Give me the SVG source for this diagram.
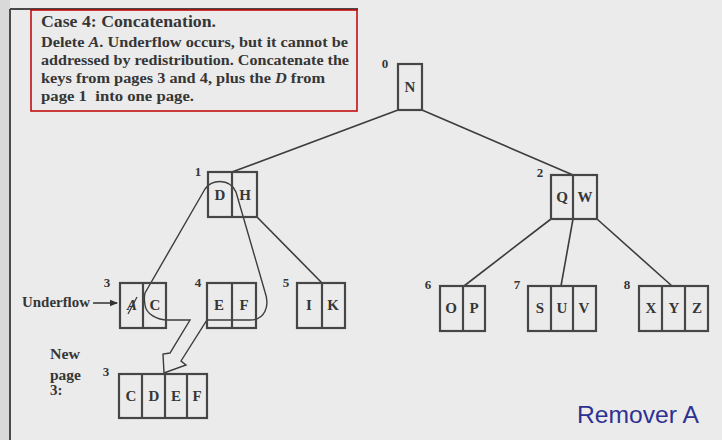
<svg xmlns="http://www.w3.org/2000/svg" width="722" height="440" viewBox="0 0 722 440">
<style>
.t{font-family:"Liberation Serif",serif;font-weight:bold;fill:#363636}
.p{font-size:14px}
.k{font-size:15px;text-anchor:middle}
.n{font-size:13px;text-anchor:middle}
.box{fill:none;stroke:#464646;stroke-width:2.2}
.ln{fill:none;stroke:#3c3c3c;stroke-width:1.6}
.lasso{fill:none;stroke:#3c3c3c;stroke-width:1.4;stroke-linejoin:miter}
</style>
<defs>
<marker id="ah" markerWidth="8" markerHeight="8" refX="7" refY="4" orient="auto" markerUnits="userSpaceOnUse">
<path d="M0,0.8 L8,4 L0,7.2 Z" fill="#333"/>
</marker>
</defs>
<rect x="0" y="0" width="722" height="440" fill="#ebebeb"/>
<rect x="0" y="0" width="10" height="440" fill="#d9d9d9"/>
<line x1="10" y1="9" x2="10" y2="440" stroke="#4a4a4a" stroke-width="2"/>
<line x1="10" y1="9" x2="358" y2="9" stroke="#4a4a4a" stroke-width="2"/>

<g id="caption">
<rect x="31" y="10" width="326" height="101" fill="none" stroke="#c00000" stroke-width="1.5"/>
<text class="t" x="41" y="27" font-size="16.5" textLength="175" lengthAdjust="spacingAndGlyphs">Case 4: Concatenation.</text>
<text class="t p" x="41" y="47" textLength="307" lengthAdjust="spacingAndGlyphs">Delete <tspan font-style="italic">A</tspan>. Underflow occurs, but it cannot be</text>
<text class="t p" x="41" y="65" textLength="308" lengthAdjust="spacingAndGlyphs">addressed by redistribution. Concatenate the</text>
<text class="t p" x="41" y="83" textLength="284" lengthAdjust="spacingAndGlyphs">keys from pages 3 and 4, plus the <tspan font-style="italic">D</tspan> from</text>
<text class="t p" x="41" y="101" textLength="153" lengthAdjust="spacingAndGlyphs">page 1&#160; into one page.</text>
</g>

<g id="connectors">
<line class="ln" x1="398" y1="110" x2="232" y2="172"/>
<line class="ln" x1="422" y1="110" x2="573" y2="175"/>
<line class="ln" x1="257" y1="217" x2="322" y2="283"/>
<line class="ln" x1="551" y1="219" x2="464" y2="286"/>
<line class="ln" x1="573" y1="219" x2="561" y2="286"/>
<line class="ln" x1="597" y1="219" x2="672" y2="286"/>
<line class="ln" x1="93" y1="303" x2="117" y2="303" marker-end="url(#ah)"/>
<path class="lasso" d="M190,320 L168,320 C157,320 146,314 145,305 C144,299 144,296 145,293 L205,189 C211,180 229,177 236,192 L265,292 C270,306 265,320 250,320 L207,320 L181,361 L186,365 L164,373 L163,354 L170,353 Z"/>
</g>

<g id="node0">
<rect class="box" x="398" y="64" width="24" height="46"/>
<text class="t k" x="410" y="92">N</text>
<text class="t n" x="385" y="68">0</text>
</g>

<g id="node1">
<rect class="box" x="208" y="172" width="49" height="45"/>
<line class="box" x1="232" y1="172" x2="232" y2="217"/>
<text class="t k" x="220" y="200">D</text>
<text class="t k" x="245" y="200">H</text>
<text class="t n" x="198" y="176">1</text>
</g>

<g id="node2">
<rect class="box" x="551" y="175" width="46" height="44"/>
<line class="box" x1="573" y1="175" x2="573" y2="219"/>
<text class="t k" x="562" y="202">Q</text>
<text class="t k" x="585" y="202">W</text>
<text class="t n" x="540" y="177">2</text>
</g>

<g id="node3">
<rect class="box" x="120" y="283" width="46" height="45"/>
<line class="box" x1="143" y1="283" x2="143" y2="328"/>
<text class="t k" x="132" y="310" font-style="italic">A</text>
<line x1="128" y1="314" x2="137" y2="297" stroke="#3c3c3c" stroke-width="1.3"/>
<text class="t k" x="155" y="310">C</text>
<text class="t n" x="107" y="287">3</text>
<text class="t" x="22" y="307" font-size="14" textLength="68" lengthAdjust="spacingAndGlyphs">Underflow</text>
</g>

<g id="node4">
<rect class="box" x="207" y="283" width="49" height="45"/>
<line class="box" x1="232" y1="283" x2="232" y2="328"/>
<text class="t k" x="219" y="310">E</text>
<text class="t k" x="244" y="310">F</text>
<text class="t n" x="198" y="287">4</text>
</g>

<g id="node5">
<rect class="box" x="297" y="283" width="48" height="45"/>
<line class="box" x1="322" y1="283" x2="322" y2="328"/>
<text class="t k" x="309" y="310">I</text>
<text class="t k" x="333" y="310">K</text>
<text class="t n" x="286" y="287">5</text>
</g>

<g id="node6">
<rect class="box" x="440" y="286" width="45" height="45"/>
<line class="box" x1="463" y1="286" x2="463" y2="331"/>
<text class="t k" x="451" y="313">O</text>
<text class="t k" x="474" y="313">P</text>
<text class="t n" x="428" y="289">6</text>
</g>

<g id="node7">
<rect class="box" x="528" y="286" width="68" height="45"/>
<line class="box" x1="551" y1="286" x2="551" y2="331"/>
<line class="box" x1="573" y1="286" x2="573" y2="331"/>
<text class="t k" x="540" y="313">S</text>
<text class="t k" x="562" y="313">U</text>
<text class="t k" x="584" y="313">V</text>
<text class="t n" x="517" y="289">7</text>
</g>

<g id="node8">
<rect class="box" x="639" y="286" width="69" height="45"/>
<line class="box" x1="662" y1="286" x2="662" y2="331"/>
<line class="box" x1="685" y1="286" x2="685" y2="331"/>
<text class="t k" x="651" y="313">X</text>
<text class="t k" x="674" y="313">Y</text>
<text class="t k" x="697" y="313">Z</text>
<text class="t n" x="627" y="289">8</text>
</g>

<g id="newpage3">
<rect class="box" x="119" y="374" width="88" height="44"/>
<line class="box" x1="142" y1="374" x2="142" y2="418"/>
<line class="box" x1="165" y1="374" x2="165" y2="418"/>
<line class="box" x1="187" y1="374" x2="187" y2="418"/>
<text class="t k" x="131" y="401">C</text>
<text class="t k" x="154" y="401">D</text>
<text class="t k" x="176" y="401">E</text>
<text class="t k" x="197" y="401">F</text>
<text class="t n" x="106" y="376">3</text>
<text class="t" x="50" y="359" font-size="15" textLength="30" lengthAdjust="spacingAndGlyphs">New</text>
<text class="t" x="50" y="380" font-size="15" textLength="31" lengthAdjust="spacingAndGlyphs">page</text>
<text class="t" x="50" y="395" font-size="15">3:</text>
</g>

<text x="577" y="423" font-family="Liberation Sans, Arial, sans-serif" font-size="24" fill="#2e3192" textLength="122" lengthAdjust="spacingAndGlyphs">Remover A</text>
</svg>
